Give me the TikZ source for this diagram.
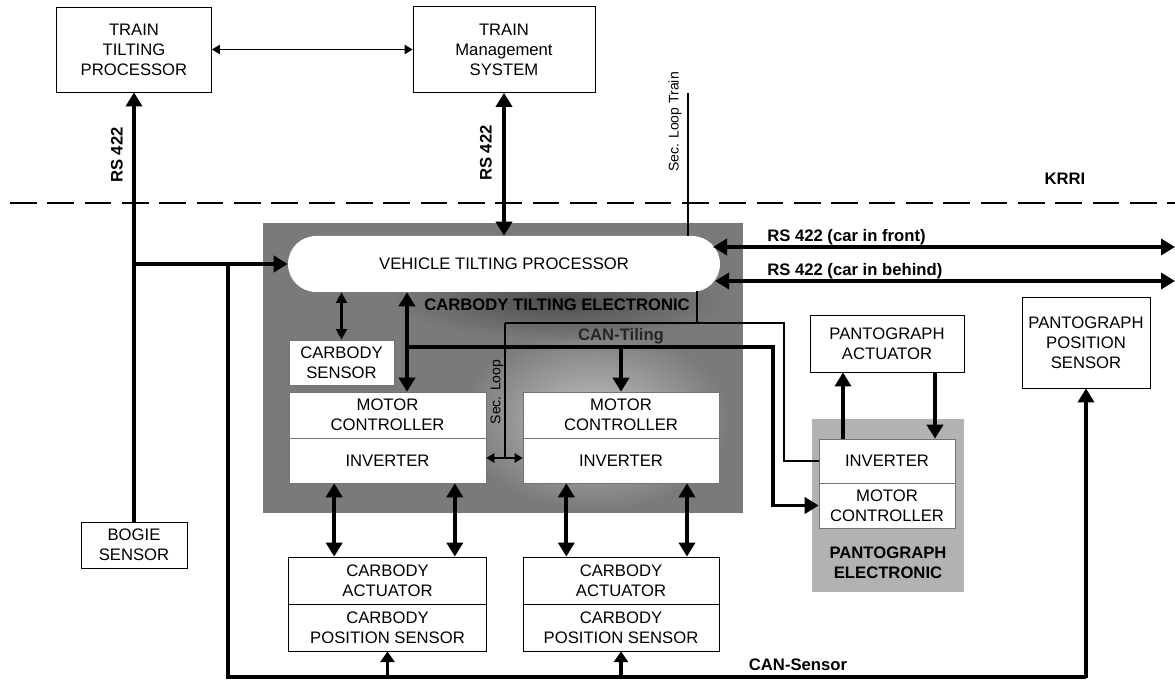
\documentclass[tikz,border=0pt]{standalone}
\usepackage{fontspec}
\setmainfont{Liberation Sans}
\usetikzlibrary{arrows.meta,shapes.misc}
\begin{document}
\begin{tikzpicture}[x=0.75pt,y=-0.75pt,
  font=\fontsize{12.5}{15}\selectfont,
  box/.style={draw=black,line width=0.6pt,fill=white,align=center,inner sep=0pt},
  inbox/.style={draw=black!55,line width=0.4pt,fill=white,align=center,inner sep=0pt},
  lbl/.style={font=\fontsize{12.5}{15}\selectfont\bfseries,align=center,inner sep=0pt},
  small/.style={font=\fontsize{10.5}{12}\selectfont,inner sep=0pt},
  bus/.style={line width=2.8pt},
  busarr/.style={line width=2.8pt,-{Triangle[length=10.5pt,width=12pt]}},
  shortarr/.style={line width=2.8pt,-{Triangle[length=8pt,width=10.5pt]}},
  busdbl/.style={line width=2.8pt,{Triangle[length=10.5pt,width=12pt]}-{Triangle[length=10.5pt,width=12pt]}},
  meddbl/.style={line width=2pt,{Triangle[length=8pt,width=8pt]}-{Triangle[length=8pt,width=8pt]}},
  wire/.style={line width=1pt},
  wiredbl/.style={line width=1pt,{Triangle[length=6pt,width=7pt]}-{Triangle[length=6pt,width=7pt]}},
  sepline/.style={line width=2.2pt,dash pattern=on 20pt off 8pt}
]
\useasboundingbox (0,0) rectangle (1175,684);

% shaded regions
\fill[black!52] (263,223) rectangle (743,513);
\begin{scope}
  \clip (263,223) rectangle (743,513);
  \shade[inner color=black!24,outer color=black!52] (595,420) ellipse [x radius=135, y radius=90];
  \shade[inner color=black!70,outer color=black!52] (560,300) ellipse [x radius=170, y radius=40];
\end{scope}
\fill[black!30] (812,419) rectangle (964,592);

% dashed boundary
\coordinate (d1) at (10,203);
\coordinate (d2) at (1175,203);
\draw[sepline] (d1) -- (d2);
\node[lbl] (krri) at (1065,179) {KRRI};

% nodes
\node[box,minimum width=116.25pt,minimum height=63.75pt] (ttp) at (134,49.5) {TRAIN\\TILTING\\PROCESSOR};
\node[box,minimum width=136.5pt,minimum height=64.5pt] (tms) at (504,49.5) {TRAIN\\Management\\SYSTEM};
\node[box,minimum width=79.5pt,minimum height=34.5pt] (bogie) at (134,545) {BOGIE\\SENSOR};
\node[fill=white,rounded rectangle,minimum width=324pt,minimum height=42pt,inner sep=0pt] (vtp) at (504,264) {VEHICLE TILTING PROCESSOR};
\node[inbox,minimum width=78.75pt,minimum height=33.75pt] (csens) at (341.5,362.5) {CARBODY\\SENSOR};
\node[inbox,minimum width=147.75pt,minimum height=34.5pt] (mc1) at (387.5,415) {MOTOR\\CONTROLLER};
\node[inbox,minimum width=147.75pt,minimum height=33.75pt] (inv1) at (387.5,460.5) {INVERTER};
\node[inbox,minimum width=147pt,minimum height=34.5pt] (mc2) at (621,415) {MOTOR\\CONTROLLER};
\node[inbox,minimum width=147pt,minimum height=33.75pt] (inv2) at (621,460.5) {INVERTER};
\node[box,minimum width=148.5pt,minimum height=35.25pt] (act1) at (387.5,580.5) {CARBODY\\ACTUATOR};
\node[box,minimum width=148.5pt,minimum height=35.25pt] (pos1) at (387.5,627.5) {CARBODY\\POSITION SENSOR};
\node[box,minimum width=147pt,minimum height=35.25pt] (act2) at (621,580.5) {CARBODY\\ACTUATOR};
\node[box,minimum width=147pt,minimum height=35.25pt] (pos2) at (621,627.5) {CARBODY\\POSITION SENSOR};
\node[box,minimum width=115.5pt,minimum height=42.75pt] (pact) at (887,343.5) {PANTOGRAPH\\ACTUATOR};
\node[inbox,minimum width=102pt,minimum height=33pt] (pinv) at (887,461) {INVERTER};
\node[inbox,minimum width=102pt,minimum height=33.75pt] (pmc) at (887,505.5) {MOTOR\\CONTROLLER};
\node[box,minimum width=96pt,minimum height=68.25pt] (ppos) at (1086,342.5) {PANTOGRAPH\\POSITION\\SENSOR};

% labels
\node[lbl] (ctel) at (557,305) {CARBODY TILTING ELECTRONIC};
\node[lbl] (pel) at (888,563) {PANTOGRAPH\\ELECTRONIC};
\node[lbl,rotate=90] (rs1) at (117,155) {RS 422};
\node[lbl,rotate=90] (rs2) at (486,153) {RS 422};
\node[small,rotate=90] (slt) at (675,122) {Sec. Loop Train};
\node[small,rotate=90] (sl) at (497,392) {Sec. Loop};
\node[lbl,text=black!85] (cant) at (621,336) {CAN-Tiling};
\node[lbl] (cans) at (798,665) {CAN-Sensor};
\node[lbl,anchor=base west] (rsf) at (767,242) {RS 422 (car in front)};
\node[lbl,anchor=base west] (rsb) at (767,276) {RS 422 (car in behind)};

% connectors: upper part
\draw[wiredbl] (ttp.east) -- (tms.west);
\draw[busarr] (bogie.north) -- (ttp.south);
\draw[busdbl] (tms.south) -- (vtp.north);
\coordinate (j1) at (134,264);
\draw[busarr] (j1) -- (vtp.west);

% CAN-Sensor bus
\coordinate (j2) at (228,262.6);
\coordinate (b1) at (228,677);
\draw[bus] (j2) -- (b1) -- (b1 -| ppos.south) -- ([yshift=-1pt]b1 -| ppos.south);
\draw[busarr] (b1 -| ppos.south) -- (ppos.south);
\draw[shortarr] (b1 -| pos1.south) -- (pos1.south);
\draw[shortarr] (b1 -| pos2.south) -- (pos2.south);

% RS 422 to neighbouring cars
\coordinate (f1) at (713,247);
\coordinate (f2) at (1175,247);
\coordinate (h1) at (715,281);
\coordinate (h2) at (1175,281);
\draw[busdbl] (f1) -- (f2);
\draw[busdbl] (h1) -- (h2);

% secondary loop (thin)
\coordinate (s0) at (688,93);
\coordinate (s1) at (697,291);
\coordinate (s2) at (697,323);
\coordinate (s3) at (505,323);
\coordinate (s4) at (784,323);
\coordinate (s5) at (505,458);
\draw[wire] (s0) -- (s0 |- vtp.north);
\draw[wire] (s1) -- (s2);
\draw[wire] (s3) -- (s4) |- (pinv.west);
\draw[wire] (s3) -- (s5);
\draw[wiredbl] (inv1.east |- s5) -- (inv2.west |- s5);

% CAN-Tiling bus
\coordinate (c1) at (407,347);
\coordinate (c2) at (773,347);
\draw[busarr] (c1) -- (c2) |- (pmc.west);
\draw[busarr] (mc2.north |- c1) -- (mc2.north);
\draw[busdbl] (vtp.south -| c1) -- (mc1.north -| c1);
\draw[meddbl] (vtp.south -| csens.north) -- (csens.north);

% inverter to actuator
\draw[busdbl] ([xshift=-40pt]inv1.south) -- ([xshift=-40pt]act1.north);
\draw[busdbl] ([xshift=50.5pt]inv1.south) -- ([xshift=50.5pt]act1.north);
\draw[busdbl] ([xshift=-41pt]inv2.south) -- ([xshift=-41pt]act2.north);
\draw[busdbl] ([xshift=49.5pt]inv2.south) -- ([xshift=49.5pt]act2.north);

% pantograph
\draw[busarr] ([xshift=-33pt]pinv.north) -- ([xshift=-33pt]pact.south);
\draw[busarr] ([xshift=36pt]pact.south) -- ([xshift=36pt]pinv.north);
\end{tikzpicture}
\end{document}
